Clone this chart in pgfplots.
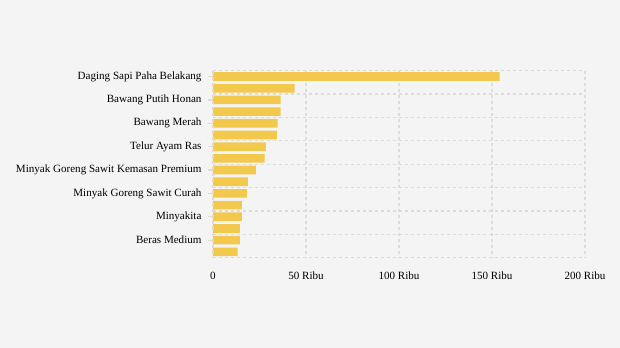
\documentclass[border=0pt]{standalone}
\usepackage{pgfplots}
\pgfplotsset{compat=1.18}
\usepackage{fontspec}
\setmainfont{Liberation Serif}
\definecolor{bg}{HTML}{F4F4F4}
\definecolor{bar}{HTML}{F2C94C}
\definecolor{gridc}{HTML}{DCDCDC}
\begin{document}
\begin{tikzpicture}[x=1bp,y=1bp]
\fill[bg] (-213bp,-90.3bp) rectangle (407bp,257.7bp);
\begin{axis}[
  at={(0,0)}, anchor=south west,
  scale only axis, width=372bp, height=187bp,
  xbar, bar width=8.6bp,
  xmin=0, xmax=200, ymin=-0.5, ymax=15.5, y dir=reverse,
  axis line style={draw=none},
  xtick={0,50,100,150,200},
  xticklabels={0,50 Ribu,100 Ribu,150 Ribu,200 Ribu},
  xmajorgrids, grid style={gridc, line width=1.3bp, dash pattern=on 3bp off 3bp},
  major x tick style={draw=none},
  ytick pos=left, xtick pos=bottom,
  ytick={0,2,...,14},
  yticklabels={Daging Sapi Paha Belakang,Bawang Putih Honan,Bawang Merah,Telur Ayam Ras,Minyak Goreng Sawit Kemasan Premium,Minyak Goreng Sawit Curah,Minyakita,Beras Medium},
  minor ytick={-0.5,1.5,...,15.5},
  yminorgrids, minor grid style={gridc, line width=1.3bp, dash pattern=on 3bp off 3bp},
  minor y tick style={draw=none},
  major y tick style={gridc, line width=1.3bp},
  tick align=outside, major tick length=5bp,
  ticklabel style={font=\fontsize{11.1}{13}\selectfont, text=black},
  xticklabel style={yshift=-6bp},
  yticklabel style={xshift=-3bp},
  /pgf/number format/assume math mode=true,
]
\addplot[fill=bar, draw=none] coordinates {
(154.1,0) (43.9,1) (36.4,2) (36.4,3) (34.8,4) (34.3,5) (28.4,6) (27.8,7)
(23.0,8) (18.7,9) (18.2,10) (15.5,11) (15.5,12) (14.4,13) (14.4,14) (13.3,15)
};
\draw[gridc, line width=1.3bp, dash pattern=on 3bp off 3bp] (axis cs:0,-0.5) -- (axis cs:0,15.5);
\end{axis}
\end{tikzpicture}
\end{document}
